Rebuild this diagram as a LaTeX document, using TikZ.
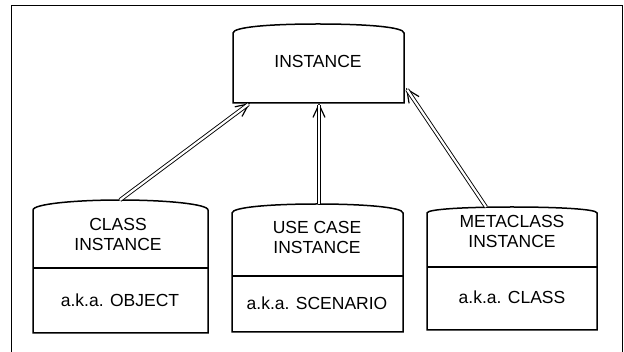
\documentclass[tikz,border=0pt]{standalone}
\usepackage{fontspec}
\setmainfont{Liberation Sans}
\usetikzlibrary{arrows.meta}

\begin{document}
\begin{tikzpicture}[
    x=1pt, y=-1pt,
    >={Straight Barb[length=13pt,width=12pt,line width=1.2pt]},
    font=\fontsize{17.5}{20}\selectfont,
    box/.style={line width=1.5pt, fill=white},
    label/.style={align=center, inner sep=0pt},
    link/.style={double, double distance=2.2pt, line width=0.9pt, shorten >=2pt}
]
    \useasboundingbox (0,0) rectangle (624,352);

    % Frame, open at the bottom
    \draw[line width=1pt] (11,352) -- (11,6) -- (622,6) -- (622,352);

    % Top box
    \draw[box] (233,103) -- (233,33) .. controls (233,27) and (270,24) .. (318,24)
        .. controls (366,24) and (404,27) .. (404,33) -- (404,103) -- cycle;
    \node[label] (inst) at (318,61) {INSTANCE};

    % Class box
    \draw[box] (33,333) -- (33,210) .. controls (33,204) and (75,200) .. (120,200)
        .. controls (165,200) and (208,204) .. (208,210) -- (208,333) -- cycle;
    \draw[line width=1.5pt] (33,268) -- (208,268);
    \node[label] (cls) at (118,234) {CLASS\\INSTANCE};
    \node[label] (clsaka) at (120,300) {a.k.a. OBJECT};

    % Use case box
    \draw[box] (232,332) -- (232,213) .. controls (232,207) and (273,204) .. (317,204)
        .. controls (361,204) and (403,207) .. (403,213) -- (403,332) -- cycle;
    \draw[line width=1.5pt] (232,276) -- (403,276);
    \node[label] (use) at (317,237) {USE CASE\\INSTANCE};
    \node[label] (useaka) at (317,303) {a.k.a. SCENARIO};

    % Metaclass box
    \draw[box] (427,330) -- (427,213) .. controls (427,209) and (468,207) .. (512,207)
        .. controls (556,207) and (597,209) .. (597,213) -- (597,330) -- cycle;
    \draw[line width=1.5pt] (427,267) -- (597,267);
    \node[label] (meta) at (512,231) {METACLASS\\INSTANCE};
    \node[label] (metaaka) at (512,297) {a.k.a. CLASS};

    % Connection points
    \coordinate (inst-a) at (250,103);
    \coordinate (inst-b) at (319,103);
    \coordinate (inst-c) at (406,88);
    \coordinate (cls-top) at (120,200);
    \coordinate (use-top) at (319,204);
    \coordinate (meta-top) at (486,207);

    % Generalisation links
    \foreach \from/\to in {cls-top/inst-a, use-top/inst-b, meta-top/inst-c} {
        \draw[->, line width=1pt] (\from) -- (\to);
        \draw[link] (\from) -- (\to);
    }

\end{tikzpicture}
\end{document}
